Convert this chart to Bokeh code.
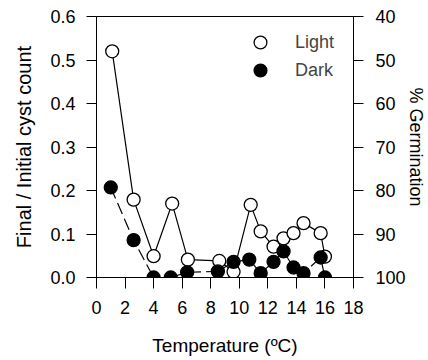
from bokeh.plotting import figure
from bokeh.models import (Range1d, LinearAxis, FixedTicker, NumeralTickFormatter,
                          Legend, LegendItem, ColumnDataSource)
from bokeh.embed import file_html
from bokeh.resources import INLINE

# ---- data ----
temp_light = [1.1, 2.6, 4.0, 5.3, 6.4, 8.6, 9.6, 10.8, 11.5, 12.4, 13.1, 13.8, 14.5, 15.7, 16.0]
ratio_light = [0.52, 0.179, 0.049, 0.17, 0.041, 0.038, 0.013, 0.167, 0.106, 0.071, 0.09, 0.102, 0.125, 0.102, 0.048]
temp_dark = [1.0, 2.6, 4.0, 5.2, 6.35, 8.5, 9.6, 10.7, 11.5, 12.4, 13.1, 13.8, 14.5, 15.7, 16.0]
ratio_dark = [0.207, 0.086, 0.0, 0.0, 0.012, 0.014, 0.036, 0.041, 0.01, 0.036, 0.06, 0.023, 0.01, 0.046, 0.0]
x_ticks = [0, 2, 4, 6, 8, 10, 12, 14, 16, 18]
y_ticks = [0.0, 0.1, 0.2, 0.3, 0.4, 0.5, 0.6]
germ_ticks = [40, 50, 60, 70, 80, 90, 100]
series_names = ["Light", "Dark"]

FONT = "Liberation Sans"

p = figure(width=428, height=360, output_backend="svg", toolbar_location=None,
           x_range=Range1d(0, 18), y_range=Range1d(0, 0.6),
           min_border_left=96, min_border_right=73, min_border_top=16, min_border_bottom=83)
p.extra_y_ranges = {"germ": Range1d(100, 40)}
p.xgrid.visible = False
p.ygrid.visible = False
p.outline_line_color = "black"
p.outline_line_width = 1
p.background_fill_color = "white"
p.border_fill_color = "white"

src_l = ColumnDataSource(dict(x=temp_light, y=ratio_light))
src_d = ColumnDataSource(dict(x=temp_dark, y=ratio_dark))

p.line("x", "y", source=src_l, line_color="black", line_width=1.2)
r_light = p.scatter("x", "y", source=src_l, size=13, fill_color="white",
                    line_color="black", line_width=1.3)
p.line("x", "y", source=src_d, line_color="black", line_width=1.2, line_dash="12 5")
r_dark = p.scatter("x", "y", source=src_d, size=13, fill_color="black",
                   line_color="black", line_width=1.3)

def style_axis(ax):
    ax.axis_line_color = "black"
    ax.major_tick_line_color = "black"
    ax.minor_tick_line_color = None
    ax.major_tick_in = 0
    ax.major_label_text_font = FONT
    ax.major_label_text_font_size = "18px"
    ax.major_label_text_color = "black"
    ax.axis_label_text_font = FONT
    ax.axis_label_text_font_style = "normal"
    ax.axis_label_text_color = "black"

xa = p.xaxis[0]
style_axis(xa)
xa.ticker = FixedTicker(ticks=x_ticks)
xa.major_tick_out = 11
xa.major_label_standoff = 12
xa.axis_label = "Temperature (ºC)"
xa.axis_label_text_font_size = "19px"
xa.axis_label_standoff = 18

ya = p.yaxis[0]
style_axis(ya)
ya.ticker = FixedTicker(ticks=y_ticks)
ya.formatter = NumeralTickFormatter(format="0.0")
ya.major_tick_out = 10
ya.major_label_standoff = 11
ya.axis_label = "Final / Initial cyst count"
ya.axis_label_text_font_size = "20px"
ya.axis_label_standoff = 12

ra = LinearAxis(y_range_name="germ", ticker=FixedTicker(ticks=germ_ticks))
style_axis(ra)
ra.major_tick_out = 10
ra.major_label_standoff = 12
ra.axis_label = "% Germination"
ra.axis_label_text_font_size = "18px"
ra.axis_label_standoff = -3
p.add_layout(ra, "right")

def make_legend(name, rend, loc):
    return Legend(items=[LegendItem(label=name, renderers=[rend])],
                  location=loc, orientation="vertical",
                  padding=0, margin=0, spacing=0,
                  glyph_width=32, glyph_height=32, label_standoff=19,
                  label_height=20,
                  label_text_font=FONT, label_text_font_size="18px",
                  border_line_color=None, background_fill_alpha=0)

p.add_layout(make_legend(series_names[0], r_light, (148, 219)))
p.add_layout(make_legend(series_names[1], r_dark, (148, 191)))

open("out.html", "w").write(file_html(p, INLINE))
